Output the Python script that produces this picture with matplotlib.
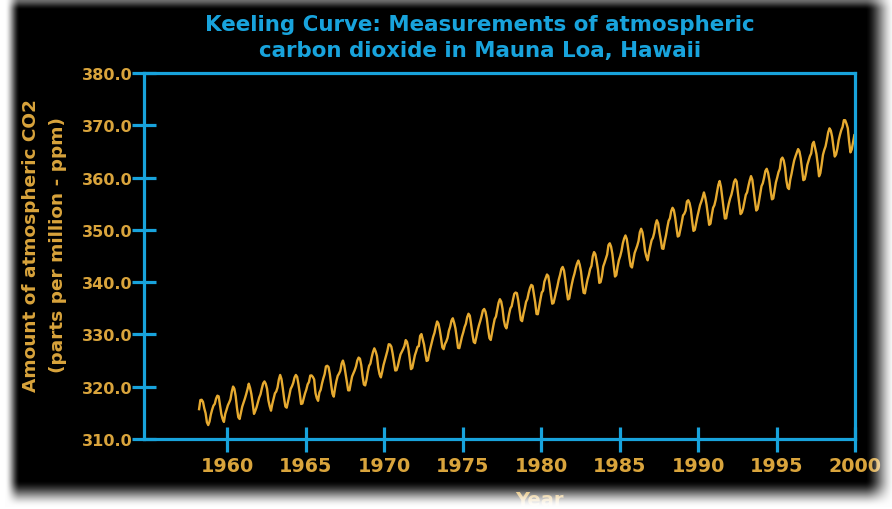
import numpy as np
import matplotlib
matplotlib.use('Agg')
import matplotlib.pyplot as plt

# monthly mean CO2 (ppm) at Mauna Loa, starting March 1958
co2_1958_1969 = [
    315.71, 317.45, 317.50, 317.10, 315.86, 314.93, 313.20, 312.66, 313.33, 314.67,
    315.62, 316.38, 316.71, 317.72, 318.29, 318.15, 316.54, 314.80, 313.84, 313.26, 314.80, 315.58,
    316.43, 316.97, 317.58, 319.02, 320.03, 319.59, 318.18, 315.91, 314.16, 313.83, 315.00, 316.19,
    316.93, 317.70, 318.54, 319.48, 320.58, 319.77, 318.57, 316.79, 314.80, 315.38, 316.10, 317.01,
    317.94, 318.56, 319.68, 320.63, 321.01, 320.55, 319.58, 317.40, 316.26, 315.42, 316.69, 317.69,
    318.74, 319.08, 319.86, 321.39, 322.25, 321.47, 319.74, 317.77, 316.21, 315.99, 317.12, 318.31,
    319.57, 320.07, 320.73, 321.77, 322.25, 321.89, 320.44, 318.70, 316.70, 316.79, 317.79, 318.71,
    319.44, 320.44, 320.89, 322.13, 322.16, 321.87, 321.39, 318.81, 317.81, 317.30, 318.87, 319.42,
    320.62, 321.59, 322.39, 323.87, 324.01, 323.75, 322.39, 320.37, 318.64, 318.10, 319.79, 321.08,
    322.07, 322.50, 323.04, 324.42, 325.00, 324.09, 322.55, 320.92, 319.31, 319.31, 320.72, 321.96,
    322.57, 323.15, 323.89, 325.02, 325.57, 325.36, 324.14, 322.03, 320.41, 320.25, 321.31, 322.84,
    324.00, 324.42, 325.64, 326.66, 327.34, 326.76, 325.88, 323.67, 322.38, 321.78, 322.85, 324.11,
]
co2_1970_1979 = [
    325.03, 325.99, 326.87, 328.13, 328.07, 327.66, 326.35, 324.69, 323.10, 323.16, 323.98, 325.13,
    326.17, 326.68, 327.18, 327.78, 328.92, 328.57, 327.34, 325.46, 323.36, 323.57, 324.80, 326.01,
    326.77, 327.63, 327.75, 329.72, 330.07, 329.09, 328.05, 326.32, 324.93, 325.06, 326.50, 327.55,
    328.54, 329.56, 330.30, 331.50, 332.48, 332.07, 330.87, 329.31, 327.51, 327.18, 328.16, 328.64,
    329.35, 330.71, 331.48, 332.65, 333.09, 332.25, 331.18, 329.40, 327.43, 327.37, 328.46, 329.57,
    330.40, 331.40, 332.04, 333.31, 333.96, 333.59, 331.91, 330.06, 328.56, 328.34, 329.49, 330.76,
    331.75, 332.56, 333.50, 334.58, 334.87, 334.34, 333.05, 330.94, 329.30, 328.94, 330.31, 331.68,
    332.93, 333.42, 334.70, 336.07, 336.74, 336.27, 334.93, 332.75, 331.58, 331.16, 332.40, 333.85,
    334.97, 335.39, 336.64, 337.76, 338.01, 337.89, 336.54, 334.68, 332.76, 332.54, 333.92, 334.95,
    336.23, 336.76, 337.96, 338.89, 339.47, 339.29, 337.73, 336.09, 333.91, 333.86, 335.29, 336.73,
]
co2_1980_1989 = [
    338.01, 338.36, 340.08, 340.77, 341.46, 341.17, 339.56, 337.60, 335.88, 336.01, 337.10, 338.21,
    339.24, 340.48, 341.38, 342.51, 342.91, 342.25, 340.49, 338.43, 336.69, 336.86, 338.36, 339.61,
    340.75, 341.61, 342.70, 343.56, 344.13, 343.35, 342.06, 339.82, 337.97, 337.86, 339.26, 340.49,
    341.38, 342.52, 343.10, 344.94, 345.75, 345.32, 343.99, 342.39, 339.86, 339.99, 341.16, 342.99,
    343.70, 344.51, 345.28, 347.08, 347.43, 346.79, 345.40, 343.28, 341.07, 341.35, 342.98, 344.22,
    344.97, 345.99, 347.42, 348.35, 348.93, 348.25, 346.56, 344.67, 343.09, 342.80, 344.24, 345.56,
    346.29, 346.96, 347.86, 349.55, 350.21, 349.54, 347.94, 345.91, 344.86, 344.17, 345.66, 346.90,
    348.02, 348.47, 349.42, 350.99, 351.84, 351.25, 349.52, 348.10, 346.44, 346.36, 347.81, 348.96,
    350.43, 351.72, 352.22, 353.59, 354.22, 353.79, 352.39, 350.44, 348.72, 348.88, 350.07, 351.34,
    352.76, 353.07, 353.68, 355.42, 355.67, 355.13, 353.90, 351.67, 349.80, 349.99, 351.30, 352.53,
]
co2_1990_1999 = [
    353.66, 354.70, 355.39, 356.20, 357.16, 356.22, 354.82, 352.91, 350.96, 351.18, 352.83, 354.21,
    354.72, 355.75, 357.16, 358.60, 359.34, 358.24, 356.17, 354.03, 352.16, 352.21, 353.75, 354.99,
    355.98, 356.72, 357.81, 359.15, 359.66, 359.25, 357.02, 355.00, 353.01, 353.31, 354.16, 355.40,
    356.70, 357.17, 358.38, 359.46, 360.28, 359.60, 357.57, 355.52, 353.70, 353.98, 355.33, 356.80,
    358.36, 358.91, 359.97, 361.26, 361.68, 360.95, 359.55, 357.49, 355.84, 356.00, 357.59, 359.05,
    359.98, 361.03, 361.66, 363.48, 363.82, 363.30, 361.94, 359.50, 358.11, 357.80, 359.61, 360.74,
    362.09, 363.29, 364.06, 364.76, 365.45, 365.01, 363.70, 361.54, 359.51, 359.65, 360.80, 362.38,
    363.23, 364.06, 364.61, 366.40, 366.84, 365.68, 364.52, 362.57, 360.24, 360.83, 362.49, 364.34,
    365.27, 365.98, 367.24, 368.66, 369.42, 368.99, 367.82, 365.95, 364.02, 364.40, 365.52, 367.13,
    368.18, 369.07, 369.68, 370.99, 370.96, 370.30, 369.45, 366.90, 364.81, 365.37, 366.72, 368.10,
]
start_year, start_month = 1958, 3

x_ticks = [1960, 1965, 1970, 1975, 1980, 1985, 1990, 1995, 2000]
y_ticks = [310, 320, 330, 340, 350, 360, 370, 380]

co2 = np.array(co2_1958_1969 + co2_1970_1979 + co2_1980_1989 + co2_1990_1999)
t = start_year + (start_month - 1 + np.arange(len(co2)) + 0.5) / 12.0

blue = '#18a3dc'
gold = '#d9a43c'
W, H = 892, 510

plt.rcParams['font.family'] = ['DejaVu Sans']
fig = plt.figure(figsize=(W / 100, H / 100), dpi=100, facecolor='black')
ax = fig.add_axes([144 / W, 1 - 440 / H, (855 - 144) / W, (440 - 74) / H])
ax.set_facecolor('black')

ax.plot(t, co2, color='#e6aa30', lw=1.7)

ax.set_xlim(1954.7, 2000)
ax.set_ylim(310, 380)
ax.set_xticks(x_ticks)
ax.set_yticks(y_ticks)
ax.set_yticklabels(['%.1f' % v for v in y_ticks])
for s in ax.spines.values():
    s.set_color(blue)
    s.set_linewidth(2.3)
    s.set_zorder(3)
ax.tick_params(axis='y', direction='inout', length=17, width=2.3, color=blue,
               labelcolor=gold, labelsize=11.6, pad=0)
ax.tick_params(axis='x', direction='inout', length=18, width=2.3, color=blue,
               labelcolor=gold, labelsize=13.8, pad=3)
for lab in ax.get_xticklabels() + ax.get_yticklabels():
    lab.set_fontweight('bold')

# titles
fig.text(480 / W, 1 - 31 / H, 'Keeling Curve: Measurements of atmospheric',
         color=blue, fontsize=15.4, fontweight='bold', ha='center', va='baseline')
fig.text(480 / W, 1 - 56.7 / H, 'carbon dioxide in Mauna Loa, Hawaii',
         color=blue, fontsize=15.4, fontweight='bold', ha='center', va='baseline')

# axis labels
fig.text(31 / W, 1 - 246 / H, 'Amount of atmospheric CO2', color=gold, fontsize=13.3,
         fontweight='bold', rotation=90, ha='center', va='center')
fig.text(58 / W, 1 - 245 / H, '(parts per million - ppm)', color=gold, fontsize=13.3,
         fontweight='bold', rotation=90, ha='center', va='center')
fig.text(539 / W, 1 - 491 / H, 'Year', color=gold, fontsize=14, fontweight='bold',
         ha='center', va='top')

# white fade around the black panel (drawn on top)
def ramp(v, a, b):
    s = np.clip((v - a) / (b - a), 0, 1)
    return s * s * (3 - 2 * s)

xx = np.arange(W) + 0.5
yy = np.arange(H) + 0.5
dark_x = ramp(xx, 5, 20) * (1 - ramp(xx, 865, 895))
dark_y = (0.55 + 0.45 * ramp(yy, 0, 11)) * (1 - ramp(yy, 481, 508))
dark = np.outer(dark_y, dark_x)
overlay = np.ones((H, W, 4))
overlay[..., 3] = 1 - dark
ov = fig.add_axes([0, 0, 1, 1], zorder=10)
ov.imshow(overlay, extent=[0, W, H, 0], aspect='auto', interpolation='bilinear')
ov.set_axis_off()

fig.savefig('out.png', dpi=100, facecolor='black')
